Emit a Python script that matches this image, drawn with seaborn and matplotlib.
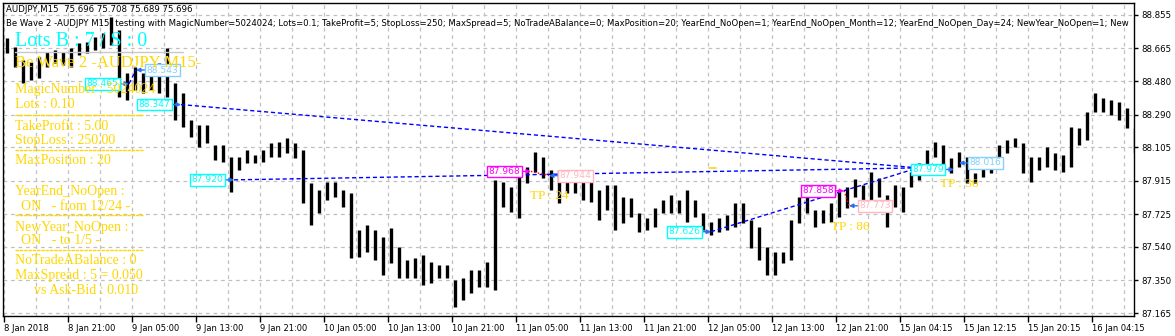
import numpy as np
import pandas as pd
import matplotlib
matplotlib.use("Agg")
import matplotlib.pyplot as plt
import seaborn as sns

# ---------------- data (hourly high / low) ----------------
high = [88.725, 88.674, 88.600, 88.589, 88.617, 88.645, 88.657, 88.645, 88.668, 88.696,
        88.702, 88.730, 88.753, 88.844, 88.770, 88.526, 88.560, 88.526, 88.560, 88.583,
        88.668, 88.470, 88.413, 88.260, 88.231, 88.231, 88.118, 88.118, 88.050, 88.050,
        88.090, 88.061, 88.090, 88.129, 88.135, 88.158, 88.129, 88.090, 87.902, 87.863,
        87.908, 87.908, 87.863, 87.846, 87.636, 87.664, 87.636, 87.596, 87.647, 87.539,
        87.466, 87.477, 87.494, 87.454, 87.437, 87.437, 87.352, 87.364, 87.409, 87.409,
        87.454, 87.919, 87.908, 87.880, 87.976, 87.993, 88.078, 88.050, 87.976, 87.976,
        87.965, 87.936, 87.959, 87.908, 87.863, 87.891, 87.891, 87.823, 87.817, 87.732,
        87.704, 87.761, 87.806, 87.834, 87.806, 87.863, 87.806, 87.732, 87.681, 87.704,
        87.721, 87.789, 87.789, 87.692, 87.653, 87.539, 87.511, 87.511, 87.692, 87.823,
        87.846, 87.749, 87.749, 87.789, 87.863, 87.880, 87.925, 87.891, 87.965, 87.931,
        87.834, 87.891, 87.880, 87.965, 88.016, 88.090, 88.135, 88.118, 88.044, 88.078,
        88.050, 87.959, 88.004, 88.021, 88.118, 88.146, 88.158, 88.129, 88.050, 88.050,
        88.107, 88.073, 88.061, 88.220, 88.214, 88.305, 88.413, 88.384, 88.373, 88.362,
        88.328, 88.214]
low = [88.640, 88.560, 88.470, 88.487, 88.498, 88.560, 88.583, 88.572, 88.560, 88.628,
       88.640, 88.657, 88.668, 88.685, 88.390, 88.373, 88.430, 88.413, 88.430, 88.413,
       88.390, 88.260, 88.220, 88.163, 88.107, 88.129, 88.033, 88.021, 87.851, 87.976,
       88.016, 88.016, 88.021, 88.050, 88.050, 88.073, 88.044, 87.789, 87.664, 87.732,
       87.806, 87.823, 87.766, 87.477, 87.483, 87.511, 87.466, 87.381, 87.449, 87.364,
       87.364, 87.364, 87.324, 87.335, 87.364, 87.364, 87.199, 87.239, 87.278, 87.312,
       87.312, 87.295, 87.766, 87.738, 87.704, 87.902, 87.965, 87.931, 87.863, 87.789,
       87.846, 87.846, 87.806, 87.795, 87.692, 87.749, 87.636, 87.675, 87.710, 87.624,
       87.636, 87.653, 87.732, 87.732, 87.732, 87.681, 87.710, 87.636, 87.607, 87.624,
       87.636, 87.653, 87.675, 87.534, 87.466, 87.381, 87.381, 87.449, 87.466, 87.675,
       87.732, 87.653, 87.675, 87.681, 87.710, 87.761, 87.823, 87.806, 87.806, 87.823,
       87.653, 87.766, 87.738, 87.880, 87.919, 87.976, 88.050, 87.976, 87.959, 87.993,
       87.902, 87.902, 87.936, 87.959, 88.016, 88.073, 88.107, 87.959, 87.908, 87.976,
       87.993, 87.976, 87.965, 87.993, 88.118, 88.146, 88.305, 88.305, 88.288, 88.260,
       88.214, 88.073]

x_tick_labels = ["8 Jan 2018", "8 Jan 21:00", "9 Jan 05:00", "9 Jan 13:00", "9 Jan 21:00",
                 "10 Jan 05:00", "10 Jan 13:00", "10 Jan 21:00", "11 Jan 05:00", "11 Jan 13:00",
                 "11 Jan 21:00", "12 Jan 05:00", "12 Jan 13:00", "12 Jan 21:00", "15 Jan 04:15",
                 "15 Jan 12:15", "15 Jan 20:15", "16 Jan 04:15"]
y_ticks = [87.165, 87.350, 87.540, 87.725, 87.915, 88.105, 88.290, 88.480, 88.665, 88.855]

# trades (bar index on the M15 axis, price)
open_labels = ["88.465", "88.347", "87.920", "87.968", "87.626", "87.858", "87.979"]
open_prices = [88.465, 88.347, 87.920, 87.968, 87.626, 87.858, 87.979]
open_bars = [62.5, 88.5, 115, 263.5, 353.5, 420, 475]
open_colors = ["#00FFFF", "#00FFFF", "#00FFFF", "#FF00FF", "#00FFFF", "#FF00FF", "#00FFFF"]
close_labels = ["88.543", "87.944", "87.773", "88.016"]
close_prices = [88.543, 87.944, 87.773, 88.016]
close_bars = [66, 272.5, 422.5, 477.5]
close_colors = ["#87CEFA", "#FFB6C1", "#FFB6C1", "#87CEFA"]
exit_bar, exit_price = 457, 87.988
tp_labels = ["TP : 24", "TP : 86", "TP : 36"]
tp_bars = [272.5, 423, 477.5]
tp_prices = [87.829, 87.653, 87.897]

info_lines = ["MagicNumber : 5024024", "Lots : 0.10", "TakeProfit : 5.00", "StopLoss : 250.00",
              "MaxPosition : 20", "YearEnd_NoOpen :", "ON   - from 12/24 -", "NewYear_NoOpen :",
              "ON   - to 1/5 -", "NoTradeABalance : 0", "MaxSpread : 5 = 0.050", "vs Ask-Bid : 0.010"]

header1 = "AUDJPY,M15  75.696 75.708 75.689 75.696"
header2 = ("Be Wave 2 -AUDJPY M15- testing with MagicNumber=5024024; Lots=0.1; TakeProfit=5; "
           "StopLoss=250; MaxSpread=5; NoTradeABalance=0; MaxPosition=20; YearEnd_NoOpen=1; "
           "YearEnd_NoOpen_Month=12; YearEnd_NoOpen_Day=24; NewYear_NoOpen=1; New")

# ---------------- style ----------------
sns.set_theme(style="white")
plt.rcParams["font.family"] = ["DejaVu Sans"]
GOLD = "#FFD700"
SERIF = ["Liberation Serif", "DejaVu Serif"]

W, H = 1175, 336
fig = plt.figure(figsize=(W / 100, H / 100), dpi=100, facecolor="white")
L, R, T, B = 3, 1134, 3, 316
ax = fig.add_axes([L / W, (H - B) / H, (R - L) / W, (B - T) / H])
ax.set_facecolor("white")


def axp(px, py):
    """pixel position of the screenshot -> axes fraction"""
    return (px - L) / (R - L), (B - py) / (B - T)


# ---------------- bars via seaborn ----------------
n = len(high)
bar_x = np.arange(n) * 4 + 1.5
df = pd.DataFrame({
    "bar": np.repeat(np.arange(n), 2),
    "x": np.repeat(bar_x, 2),
    "price": np.column_stack([low, high]).ravel(),
})
sns.lineplot(data=df, x="x", y="price", units="bar", estimator=None, sort=False,
             color="black", lw=2.4, ax=ax, zorder=3)
for ln in ax.lines:
    ln.set_solid_capstyle("butt")

ax.set_xlim(-0.5, (R - L) / 2 - 0.5)
ax.set_ylim(87.148, 88.923)
ax.set_xlabel("")
ax.set_ylabel("")

# ---------------- axes / grid ----------------
ax.set_xticks(np.arange(len(x_tick_labels)) * 32)
ax.set_xticklabels(x_tick_labels, ha="left", fontsize=6)
ax.set_xticks(np.arange(0, 566, 16), minor=True)
ax.set_yticks(y_ticks)
ax.set_yticklabels([f"{v:.3f}" for v in y_ticks], fontsize=6.2)
ax.yaxis.tick_right()
ax.tick_params(axis="x", which="major", direction="out", length=4, width=1, pad=1.5,
               color="black", labelcolor="black", bottom=True)
ax.tick_params(axis="x", which="minor", length=0)
ax.tick_params(axis="y", direction="out", length=3, width=1, pad=2, color="black",
               labelcolor="black", right=True, left=False)
ax.grid(which="both", axis="x", color="#C0C0C0", lw=0.9, dashes=(3, 3))
ax.grid(which="major", axis="y", color="#C0C0C0", lw=0.9, dashes=(3, 3))
for s in ax.spines.values():
    s.set_color("black")
    s.set_linewidth(1)

# ---------------- trade lines ----------------
for b, p in zip(open_bars[1:3] + [open_bars[4]], open_prices[1:3] + [open_prices[4]]):
    ax.plot([b, exit_bar], [p, exit_price], color="#0000FF", lw=1, dashes=(3, 2), zorder=4)
ax.plot([open_bars[0], close_bars[0]], [open_prices[0], close_prices[0]],
        color="#0000FF", lw=1, dashes=(3, 2), zorder=4)
for i, j in [(3, 1), (5, 2)]:
    ax.plot([open_bars[i], close_bars[j]], [open_prices[i], close_prices[j]],
            color="red", lw=1, dashes=(1, 1.5), zorder=4)
ax.plot([exit_bar], [exit_price], marker="<", color="#E8A000", ms=4, zorder=6)
ax.plot([352.5, 356], [87.987, 87.987], color=GOLD, lw=1.2, zorder=4)

box_font = 6.6
for lab, p, b, c in zip(open_labels, open_prices, open_bars, open_colors):
    arrow_c = c if c == "#FF00FF" else "#2A6FF0"
    ax.annotate(lab, xy=(b, p), xytext=(-7.5, 0), textcoords="offset points",
                ha="right", va="center", fontsize=box_font, color=c, zorder=7,
                bbox=dict(boxstyle="square,pad=0.15", fc="white", ec=c, lw=1),
                arrowprops=dict(arrowstyle="-|>", color=arrow_c, lw=1, mutation_scale=6,
                                shrinkA=0, shrinkB=0))
for lab, p, b, c in zip(close_labels, close_prices, close_bars, close_colors):
    ax.annotate(lab, xy=(b, p), xytext=(7.5, 0), textcoords="offset points",
                ha="left", va="center", fontsize=box_font, color=c, zorder=7,
                bbox=dict(boxstyle="square,pad=0.15", fc="white", ec=c, lw=1),
                arrowprops=dict(arrowstyle="-|>", color="#2A6FF0", lw=1, mutation_scale=6,
                                shrinkA=0, shrinkB=0))
for lab, b, p in zip(tp_labels, tp_bars, tp_prices):
    ax.text(b, p, lab, ha="center", va="center", color=GOLD, fontsize=9.5,
            family=SERIF, zorder=7)

# ---------------- header texts ----------------
ax.text(*axp(6, 10), header1, transform=ax.transAxes, ha="left", va="center",
        fontsize=6.2, color="black", zorder=8)
ax.text(*axp(6, 24), header2, transform=ax.transAxes, ha="left", va="center",
        fontsize=6.1, color="black", zorder=8)

# ---------------- info panel ----------------
ax.text(*axp(15, 41), "Lots B : 7 / S : 0", transform=ax.transAxes, ha="left", va="center",
        fontsize=14.5, color="#00FFFF", family=SERIF, zorder=8)
ax.plot(*zip(axp(15, 52), axp(183, 52)), transform=ax.transAxes, color="#C8C8C8", lw=1, zorder=8)
ax.text(*axp(15, 63), "Be Wave 2 -AUDJPY M15-", transform=ax.transAxes, ha="left",
        va="center", fontsize=12, color=GOLD, family=SERIF, zorder=8)
info_x = [15, 15, 15, 15, 15, 15, 21, 15, 21, 15, 15, 34]
info_y = [90, 105, 126, 141, 161, 191, 206, 227, 241, 261, 276, 291]
for t, px, py in zip(info_lines, info_x, info_y):
    ax.text(*axp(px, py), t, transform=ax.transAxes, ha="left", va="center",
            fontsize=10, color=GOLD, family=SERIF, zorder=8)
for py in [115, 150, 215, 250]:
    ax.plot(*zip(axp(15, py), axp(143, py)), transform=ax.transAxes, color=GOLD,
            lw=1, dashes=(2.5, 0.6), zorder=8)

fig.savefig("out.png", dpi=100, facecolor="white")
